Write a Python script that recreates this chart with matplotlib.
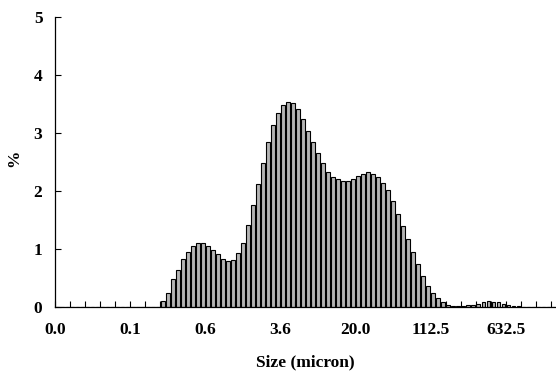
import matplotlib
matplotlib.use('Agg')
import matplotlib.pyplot as plt
import numpy as np

# particle size distribution, 100 log-spaced size classes
percent = [
    0, 0, 0, 0, 0, 0, 0, 0, 0, 0,
    0, 0, 0, 0, 0, 0, 0, 0, 0, 0,
    0, 0.10, 0.24, 0.48, 0.64, 0.82, 0.94, 1.05, 1.10, 1.10,
    1.06, 0.99, 0.91, 0.83, 0.80, 0.81, 0.93, 1.11, 1.41, 1.76,
    2.12, 2.49, 2.84, 3.14, 3.35, 3.49, 3.54, 3.51, 3.41, 3.24,
    3.04, 2.85, 2.66, 2.48, 2.33, 2.25, 2.20, 2.17, 2.17, 2.21,
    2.26, 2.30, 2.32, 2.29, 2.24, 2.14, 2.01, 1.82, 1.60, 1.40,
    1.17, 0.95, 0.74, 0.53, 0.37, 0.25, 0.15, 0.08, 0.03, 0.02,
    0.02, 0.02, 0.03, 0.04, 0.06, 0.08, 0.10, 0.09, 0.08, 0.06,
    0.04, 0.02, 0.01, 0, 0, 0, 0, 0, 0, 0,
]
size_labels = ['0.0', '0.1', '0.6', '3.6', '20.0', '112.5', '632.5']
label_every = 15
tick_every = 3

plt.rcParams['font.family'] = 'Liberation Serif'
plt.rcParams['font.weight'] = 'bold'
fs = 12.5

fig = plt.figure(figsize=(5.56, 3.74), dpi=100)
ax = fig.add_axes([55 / 556, 67 / 374, 501 / 556, 290 / 374])

idx = np.arange(len(percent))
ax.bar(idx, percent, width=0.74, color='#b4b4b4', edgecolor='black', linewidth=0.8)

ax.set_xlim(-0.5, len(percent) - 0.5)
ax.set_ylim(0, 5)

# minor ticks every 3 classes, labels every 15 classes at the class boundaries
ax.set_xticks(np.arange(0, len(percent) + 1, tick_every) - 0.5, minor=True)
ax.set_xticks(np.arange(len(size_labels)) * label_every - 0.5)
ax.set_xticklabels(size_labels, fontsize=fs, fontweight='bold')
ax.tick_params(axis='x', which='both', direction='in', length=4, width=0.8)
ax.tick_params(axis='x', which='major', pad=11)

ax.set_yticks(range(6))
ax.set_yticklabels([str(v) for v in range(6)], fontsize=fs, fontweight='bold')
ax.tick_params(axis='y', direction='in', length=4, width=0.8, pad=9)

ax.spines['top'].set_visible(False)
ax.spines['right'].set_visible(False)
ax.spines['left'].set_linewidth(0.9)
ax.spines['bottom'].set_linewidth(0.9)

fig.text(305 / 556, 1 - 362 / 374, 'Size (micron)', ha='center', va='center',
         fontsize=fs, fontweight='bold')
fig.text(14 / 556, 1 - 158 / 374, '%', ha='center', va='center', rotation=90,
         fontsize=fs, fontweight='bold')

fig.savefig('out.png', dpi=100)
